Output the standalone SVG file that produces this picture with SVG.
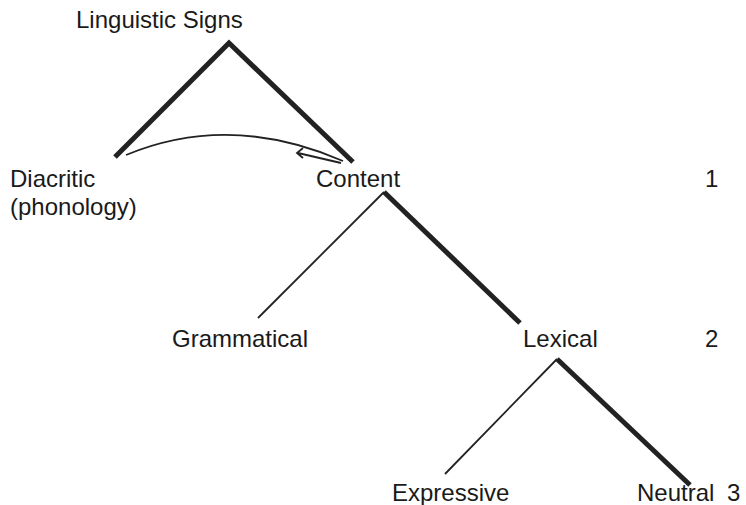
<svg xmlns="http://www.w3.org/2000/svg" width="746" height="505" viewBox="0 0 746 505">
<style>
text{font-family:"Liberation Sans",Arial,sans-serif;font-size:24px;fill:#1a1a1a}
.thick{stroke:#222;stroke-width:5;fill:none;stroke-linecap:butt}
.thin{stroke:#222;stroke-width:1.8;fill:none}
</style>
<rect width="746" height="505" fill="#fff"/>
<g id="connectors">
<polyline class="thick" points="115,157 229,43 353,162"/>
<polyline class="thick" points="384,192 520,323" />
<line class="thin" x1="384" y1="192" x2="258" y2="318"/>
<polyline class="thick" points="557,359 690,485"/>
<line class="thin" x1="557" y1="359" x2="445" y2="474"/>
<path class="thin" d="M126,155 Q230,112 343,161"/>
<path class="thin" d="M341,163 L298,153 M303,148 L297,153 L303,158"/>
</g>
<g id="n-signs"><text x="76" y="28">Linguistic Signs</text></g>
<g id="n-diacritic"><text x="10" y="187">Diacritic</text><text x="10" y="215">(phonology)</text></g>
<g id="n-content"><text x="316" y="187">Content</text></g>
<g id="n-grammatical"><text x="172" y="347">Grammatical</text></g>
<g id="n-lexical"><text x="523" y="347">Lexical</text></g>
<g id="n-expressive"><text x="392" y="501">Expressive</text></g>
<g id="n-neutral"><text x="637" y="501">Neutral</text></g>
<g id="levels"><text x="705" y="187">1</text><text x="705" y="347">2</text><text x="727" y="501">3</text></g>
</svg>
